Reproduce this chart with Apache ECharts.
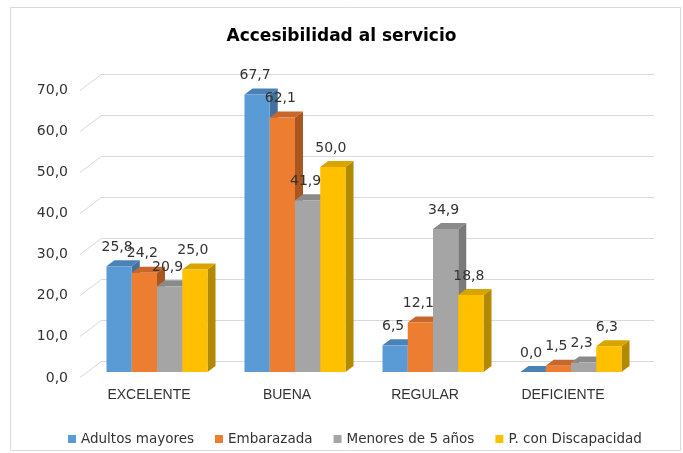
<!DOCTYPE html>
<html>
<head>
<meta charset="utf-8">
<script src="https://cdn.jsdelivr.net/npm/echarts@6/dist/echarts.min.js"></script>
<style>
  html, body { margin: 0; padding: 0; background: #ffffff; }
  #chart { width: 683px; height: 453px; }
</style>
</head>
<body>
<div id="chart"></div>
<script>
// Categories and values (percent)
const categories = ['EXCELENTE', 'BUENA', 'REGULAR', 'DEFICIENTE'];
const seriesNames = ['Adultos mayores', 'Embarazada', 'Menores de 5 años', 'P. con Discapacidad'];
const adultosMayores = [25.8, 67.7, 6.5, 0.0];
const embarazada = [24.2, 62.1, 12.1, 1.5];
const menores5 = [20.9, 41.9, 34.9, 2.3];
const discapacidad = [25.0, 50.0, 18.8, 6.3];
const yTicks = [0, 10, 20, 30, 40, 50, 60, 70];

const seriesValues = [adultosMayores, embarazada, menores5, discapacidad];
const frontColors = ['#5B9BD5', '#ED7D31', '#A5A5A5', '#FFC000'];
const topColors = ['#4A82B8', '#C8672A', '#8A8A8A', '#D9A400'];
const sideColors = ['#41719C', '#A9561F', '#7A7A7A', '#B38900'];

// Perspective offsets: back wall -> front plane, and bar front/depth placement
const WALL_DX = -22, WALL_DY = 16.5;
const FRONT_DX = -14, FRONT_DY = 11;
const DEPTH_DX = 8, DEPTH_DY = -6;
const BAR_RATIO = 0.183;

const fmt = v => v.toFixed(1).replace('.', ',');

function barRenderer(sIdx) {
  return function (params, api) {
    const cat = api.value(0);
    const val = api.value(1);
    const top = api.coord([cat, val]);
    const base = api.coord([cat, 0]);
    const catW = api.size([1, 0])[0];
    const bw = catW * BAR_RATIO;
    const x0 = top[0] - 2 * bw + sIdx * bw + FRONT_DX;
    const x1 = x0 + bw;
    const yt = top[1] + FRONT_DY;
    const yb = base[1] + FRONT_DY;
    return {
      type: 'group',
      children: [
        { type: 'polygon', shape: { points: [[x1, yt], [x1 + DEPTH_DX, yt + DEPTH_DY], [x1 + DEPTH_DX, yb + DEPTH_DY], [x1, yb]] },
          style: { fill: sideColors[sIdx] } },
        { type: 'polygon', shape: { points: [[x0, yt], [x0 + DEPTH_DX, yt + DEPTH_DY], [x1 + DEPTH_DX, yt + DEPTH_DY], [x1, yt]] },
          style: { fill: topColors[sIdx] } },
        { type: 'rect', shape: { x: x0, y: yt, width: bw, height: yb - yt },
          style: { fill: frontColors[sIdx] } },
        { type: 'text', z2: 100,
          style: { text: fmt(val), x: (x0 + x1) / 2 - 2, y: yt - 19, align: 'center', verticalAlign: 'middle',
                   font: '14px "DejaVu Sans"', fill: '#333333' } }
      ]
    };
  };
}

const chart = echarts.init(document.getElementById('chart'), null, { renderer: 'canvas' });

const barSeries = seriesNames.map((name, i) => ({
  name: name,
  type: 'custom',
  xAxisIndex: 0,
  yAxisIndex: 0,
  color: frontColors[i],
  itemStyle: { color: frontColors[i] },
  renderItem: barRenderer(i),
  encode: { x: 0, y: 1 },
  data: seriesValues[i].map((v, c) => [c, v])
}));

// Diagonal floor/wall lines joining the front axis to the back wall
const wallSeries = {
  type: 'custom',
  xAxisIndex: 0,
  yAxisIndex: 0,
  silent: true,
  z: 1,
  renderItem: function (params, api) {
    const cs = params.coordSys;
    const y = api.coord([0, api.value(0)])[1];
    return {
      type: 'line',
      shape: { x1: cs.x, y1: y, x2: cs.x + WALL_DX, y2: y + WALL_DY },
      style: { stroke: '#D9D9D9', lineWidth: 1 }
    };
  },
  encode: { y: 0 },
  data: yTicks.map(t => [t])
};

chart.setOption({
  backgroundColor: '#ffffff',
  animation: false,
  title: {
    text: 'Accesibilidad al servicio',
    left: 'center',
    top: 23,
    textStyle: { fontFamily: 'DejaVu Sans', fontSize: 17, fontWeight: 'bold', color: '#000000' }
  },
  legend: {
    data: seriesNames,
    left: 63,
    top: 427,
    itemWidth: 8,
    itemHeight: 8,
    itemGap: 21,
    icon: 'rect',
    textStyle: { fontFamily: 'DejaVu Sans', fontSize: 13.5, color: '#333333' }
  },
  graphic: [{
    type: 'rect',
    shape: { x: 10.5, y: 7.5, width: 670, height: 443 },
    style: { fill: 'none', stroke: '#D9D9D9', lineWidth: 1 },
    silent: true
  }],
  grid: [
    { left: 102, right: 29, top: 74, bottom: 92 },
    { left: 80, right: 51, top: 90, bottom: 75 }
  ],
  xAxis: [
    { type: 'category', gridIndex: 0, data: categories,
      axisLine: { show: false }, axisTick: { show: false }, axisLabel: { show: false } },
    { type: 'category', gridIndex: 1, data: categories,
      axisLine: { show: false }, axisTick: { show: false },
      axisLabel: { margin: 10, fontFamily: 'Liberation Sans', fontSize: 14, color: '#333333' } }
  ],
  yAxis: [
    { type: 'value', gridIndex: 0, min: 0, max: 70, interval: 10,
      axisLine: { show: false }, axisTick: { show: false }, axisLabel: { show: false },
      splitLine: { show: true, lineStyle: { color: '#D9D9D9', width: 1 } } },
    { type: 'value', gridIndex: 1, min: 0, max: 70, interval: 10,
      axisLine: { show: false }, axisTick: { show: false }, splitLine: { show: false },
      axisLabel: { margin: 12, fontFamily: 'DejaVu Sans', fontSize: 14, color: '#333333',
                   formatter: v => fmt(v) } }
  ],
  series: [wallSeries].concat(barSeries)
});
</script>
</body>
</html>
